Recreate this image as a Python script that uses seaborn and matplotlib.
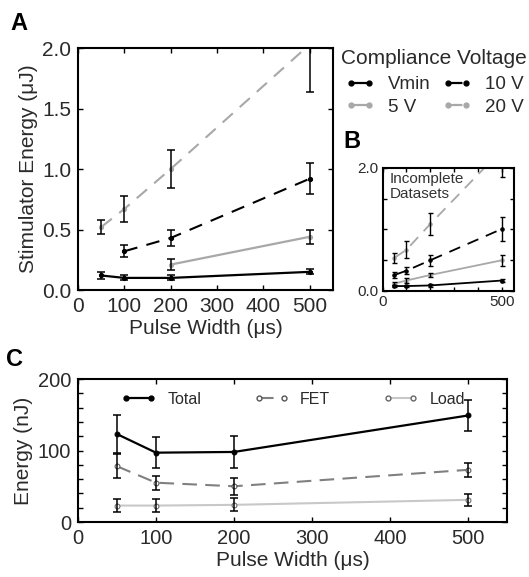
import seaborn as sns
import matplotlib.pyplot as plt
from matplotlib.lines import Line2D

# ---- panel A: complete datasets (uJ) ----
pw_vmin = [50, 100, 200, 500]
e_vmin = [0.12, 0.10, 0.10, 0.15]
err_vmin = [0.025, 0.02, 0.02, 0.02]
pw_5v = [200, 500]
e_5v = [0.21, 0.44]
err_5v = [0.045, 0.06]
pw_10v = [100, 200, 500]
e_10v = [0.32, 0.43, 0.92]
err_10v = [0.05, 0.07, 0.13]
pw_20v = [50, 100, 200, 500]
e_20v = [0.52, 0.67, 1.0, 2.03]
err_20v = [0.06, 0.105, 0.155, 0.39]

# ---- panel B: incl. incomplete datasets (uJ) ----
pw_b = [50, 100, 200, 500]
b_vmin = [0.08, 0.08, 0.09, 0.17]
b_vmin_err = [0.02, 0.02, 0.02, 0.02]
b_5v = [0.12, 0.17, 0.26, 0.50]
b_5v_err = [0.03, 0.04, 0.04, 0.09]
b_10v = [0.26, 0.33, 0.50, 1.01]
b_10v_err = [0.05, 0.06, 0.09, 0.19]
b_20v = [0.54, 0.67, 1.09, 2.3]
b_20v_err = [0.08, 0.14, 0.18, 0.44]

# ---- panel C: energy split (nJ) ----
pw_c = [50, 100, 200, 500]
total = [123, 97, 98, 149]
total_err = [27, 22, 22, 22]
fet = [78, 55, 50, 73]
fet_err = [17, 10, 12, 10]
load = [23, 23, 24, 31]
load_err = [9, 9, 9, 8]

GRAY = '#a8a8a8'
DASH = (0, (6.5, 4.5))

sns.set_style('ticks')
plt.rcParams['font.family'] = ['Liberation Sans', 'DejaVu Sans']
plt.rcParams.update({
    'xtick.direction': 'in', 'ytick.direction': 'in',
    'xtick.top': True, 'ytick.right': True,
    'xtick.major.size': 3.8, 'ytick.major.size': 3.8,
    'ytick.minor.size': 3.8, 'xtick.major.width': 1.0,
    'ytick.major.width': 1.0, 'ytick.minor.width': 1.0,
    'axes.linewidth': 1.5, 'axes.edgecolor': 'black',
    'xtick.color': 'black', 'ytick.color': 'black',
    'xtick.labelcolor': '#2a2a2a', 'ytick.labelcolor': '#2a2a2a',
    'text.color': '#2a2a2a', 'axes.labelcolor': '#2a2a2a',
})


def draw(ax, x, y, err, color, ls='-', lw=1.6, ms=3, mfc=None, mec=None, cap=2.9, elw=1.1):
    sns.lineplot(x=x, y=y, ax=ax, color=color, linestyle=ls, linewidth=lw,
                 marker='o', markersize=ms,
                 markerfacecolor=mfc if mfc else color,
                 markeredgecolor=mec if mec else color,
                 errorbar=None)
    ax.errorbar(x, y, yerr=err, fmt='none', ecolor='black', elinewidth=elw,
                capsize=cap, capthick=elw)


fig = plt.figure(figsize=(5.29, 5.77), dpi=100)

# ---------------- A ----------------
axA = fig.add_axes([0.1474, 0.4974, 0.4820, 0.4194])
draw(axA, pw_20v, e_20v, err_20v, GRAY, DASH, lw=1.5)
draw(axA, pw_10v, e_10v, err_10v, 'black', DASH, lw=1.5)
draw(axA, pw_5v, e_5v, err_5v, GRAY)
draw(axA, pw_vmin, e_vmin, err_vmin, 'black')
axA.set_xlim(0, 550)
axA.set_ylim(0, 2.0)
axA.set_xticks([0, 100, 200, 300, 400, 500])
axA.set_yticks([0, 0.5, 1.0, 1.5, 2.0])
axA.set_yticklabels(['0.0', '0.5', '1.0', '1.5', '2.0'])
axA.tick_params(labelsize=15, pad=5)
axA.set_xlabel('Pulse Width (μs)', fontsize=15, labelpad=2)
axA.set_ylabel('Stimulator Energy (μJ)', fontsize=15, labelpad=3)

handles = [
    Line2D([], [], color='black', lw=1.6, marker='o', ms=3.5),
    Line2D([], [], color=GRAY, lw=1.6, marker='o', ms=3.5),
    Line2D([], [], color='black', lw=1.6, ls=DASH, marker='o', ms=3.5),
    Line2D([], [], color=GRAY, lw=1.6, ls=DASH, marker='o', ms=3.5),
]
fig.text(0.821, 1 - 58 / 577, 'Compliance Voltage', fontsize=15, ha='center', va='center')
fig.legend(handles, ['Vmin', '5 V', '10 V', '20 V'], ncol=2, fontsize=13.5,
           loc='upper left', bbox_to_anchor=(0.652, 1 - 76 / 577),
           bbox_transform=fig.transFigure, frameon=False, numpoints=2,
           handlelength=1.6, handletextpad=0.7, columnspacing=0.6,
           labelspacing=0.3, borderpad=0, borderaxespad=0)

# ---------------- B ----------------
axB = fig.add_axes([0.7231, 0.4957, 0.2486, 0.2132])
draw(axB, pw_b, b_20v, b_20v_err, GRAY, DASH, lw=1.3, ms=2.5, cap=1.8, elw=1.0)
draw(axB, pw_b, b_10v, b_10v_err, 'black', DASH, lw=1.3, ms=2.5, cap=1.8, elw=1.0)
draw(axB, pw_b, b_5v, b_5v_err, GRAY, lw=1.3, ms=2.5, cap=1.8, elw=1.0)
draw(axB, pw_b, b_vmin, b_vmin_err, 'black', lw=1.3, ms=2.5, cap=1.8, elw=1.0)
axB.set_xlim(0, 550)
axB.set_ylim(0, 2.0)
axB.set_xticks([0, 100, 200, 300, 400, 500])
axB.set_xticklabels(['0', '', '', '', '', '500'])
axB.set_yticks([0, 0.5, 1.0, 1.5, 2.0])
axB.set_yticklabels(['0.0', '', '', '', '2.0'])
axB.tick_params(labelsize=11, pad=3, length=3)
axB.text(30, 1.93, 'Incomplete\nDatasets', fontsize=11, va='top', ha='left',
         linespacing=1.1, color='#333333')

# ---------------- C ----------------
axC = fig.add_axes([0.1474, 0.0953, 0.8110, 0.2478])
draw(axC, pw_c, load, load_err, '#c8c8c8', lw=1.5, ms=3.5, mfc='white', mec='#666666')
draw(axC, pw_c, fet, fet_err, '#808080', (0, (7, 4)), lw=1.5, ms=3.5, mfc='white', mec='#555555')
draw(axC, pw_c, total, total_err, 'black', lw=1.6, ms=3.5)
axC.set_xlim(0, 550)
axC.set_ylim(0, 200)
axC.set_xticks([0, 100, 200, 300, 400, 500])
axC.set_yticks([0, 100, 200])
axC.set_yticks(range(0, 201, 20), minor=True)
axC.tick_params(labelsize=14.5, pad=5)
axC.set_xlabel('Pulse Width (μs)', fontsize=15, labelpad=2)
axC.set_ylabel('Energy (nJ)', fontsize=15, labelpad=3)

handlesC = [
    Line2D([], [], color='black', lw=1.6, marker='o', ms=3.5),
    Line2D([], [], color='#808080', lw=1.5, ls=(0, (7, 4)), marker='o', ms=3.5,
           mfc='white', mec='#555555'),
    Line2D([], [], color='#c8c8c8', lw=1.5, marker='o', ms=3.5,
           mfc='white', mec='#666666'),
]
axC.legend(handlesC, ['Total', 'FET', 'Load'], ncol=3, loc='upper left',
           bbox_to_anchor=(0.1, 0.91), frameon=False, fontsize=11.5, numpoints=2,
           handlelength=2.2, handletextpad=0.7, columnspacing=3.3,
           borderpad=0, borderaxespad=0)

# panel letters
fig.text(0.036, 0.960, 'A', fontsize=17, fontweight='bold', ha='center', va='center', color='black')
fig.text(0.666, 0.755, 'B', fontsize=17, fontweight='bold', ha='center', va='center', color='black')
fig.text(0.028, 0.377, 'C', fontsize=17, fontweight='bold', ha='center', va='center', color='black')

fig.savefig('out.png', dpi=100)
